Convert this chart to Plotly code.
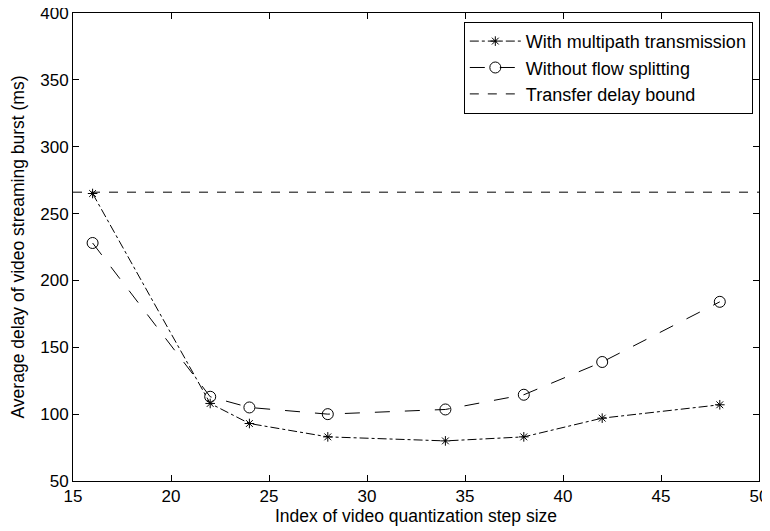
import plotly.graph_objects as go

x_vals = [16, 22, 24, 28, 34, 38, 42, 48]
multipath = [265, 108, 93, 83, 80, 83, 97, 107]
no_split = [228, 113, 105, 100, 103.5, 114.5, 139, 184]
bound_value = 266
x_range = [15, 50]
y_range = [50, 400]

fig = go.Figure()
fig.add_trace(go.Scatter(
    x=x_vals, y=multipath, mode="lines+markers", name="With multipath transmission",
    line=dict(color="black", width=1, dash="dashdot"),
    marker=dict(symbol="asterisk-open", size=8, color="black", line=dict(width=1, color="black"))))
fig.add_trace(go.Scatter(
    x=x_vals, y=no_split, mode="lines+markers", name="Without flow splitting",
    line=dict(color="black", width=1, dash="longdash"),
    marker=dict(symbol="circle-open", size=11, color="black", line=dict(width=1, color="black"))))
fig.add_trace(go.Scatter(
    x=x_range, y=[bound_value, bound_value], mode="lines", name="Transfer delay bound",
    line=dict(color="black", width=1, dash="dash")))

axis_common = dict(showline=True, linecolor="black", linewidth=1, mirror="ticks",
                   ticks="inside", ticklen=6, tickcolor="black", showgrid=False,
                   zeroline=False, ticklabeloverflow="allow", automargin=False,
                   tickfont=dict(size=17, color="black"))
fig.update_xaxes(range=x_range, dtick=5,
                 title=dict(text="Index of video quantization step size", font=dict(size=17.5, color="black"), standoff=2),
                 **axis_common)
fig.update_yaxes(range=y_range, dtick=50,
                 title=dict(text="Average delay of video streaming burst (ms)", font=dict(size=17.5, color="black"), standoff=12),
                 **axis_common)
fig.update_layout(
    width=762, height=523,
    margin=dict(l=65, r=11, t=5, b=50),
    plot_bgcolor="white", paper_bgcolor="white",
    font=dict(family="Liberation Sans, Arial, sans-serif", size=17, color="black"),
    legend=dict(x=0.991, y=0.981, xanchor="right", yanchor="top",
                bordercolor="black", borderwidth=1, bgcolor="white",
                font=dict(size=18), tracegroupgap=0, itemwidth=51),
    showlegend=True,
)
fig.write_html("out.html")
